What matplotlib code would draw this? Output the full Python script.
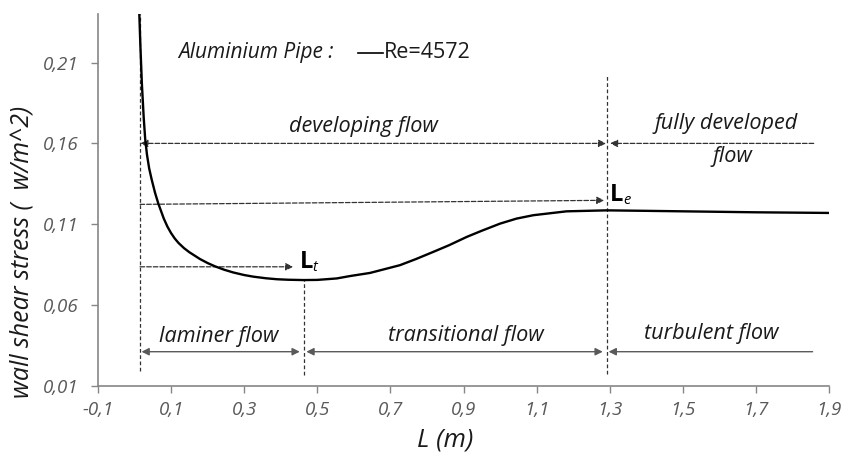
import matplotlib
matplotlib.use("Agg")
import matplotlib.pyplot as plt
from matplotlib.ticker import FuncFormatter

plt.rcParams['font.family'] = ['Open Sans', 'DejaVu Sans']

# wall shear stress along the aluminium pipe, Re=4572
L = [0.013, 0.016, 0.020, 0.025, 0.029, 0.034, 0.040, 0.047, 0.056, 0.065,
     0.08, 0.09, 0.10, 0.11, 0.12, 0.135, 0.15, 0.179, 0.20, 0.22,
     0.245, 0.27, 0.30, 0.325, 0.36, 0.39, 0.42, 0.462, 0.50, 0.553,
     0.59, 0.644, 0.68, 0.726, 0.77, 0.817, 0.86, 0.909, 0.95, 1.0,
     1.045, 1.091, 1.182, 1.292, 1.4, 1.5, 1.6, 1.7, 1.8, 1.9]
tau = [0.240, 0.220, 0.197, 0.176, 0.163, 0.153, 0.1445, 0.1375, 0.1295, 0.1228,
       0.1135, 0.1085, 0.1045, 0.1012, 0.0985, 0.0953, 0.0927, 0.0885, 0.086, 0.084,
       0.0819, 0.0802, 0.0786, 0.0776, 0.0766, 0.076, 0.0757, 0.0755, 0.0756, 0.0765,
       0.078, 0.0799, 0.082, 0.0847, 0.0885, 0.0929, 0.097, 0.1022, 0.106, 0.1104,
       0.1135, 0.1156, 0.118, 0.1186, 0.1183, 0.118, 0.1177, 0.1174, 0.1172, 0.117]

x_ticks = [-0.1, 0.1, 0.3, 0.5, 0.7, 0.9, 1.1, 1.3, 1.5, 1.7, 1.9]
y_ticks = [0.01, 0.06, 0.11, 0.16, 0.21]

x_start = 0.015   # pipe inlet
L_t = 0.464       # end of laminar region
L_e = 1.293       # entrance length

fig = plt.figure(figsize=(8.42, 4.61), dpi=100)
ax = fig.add_axes([0.1164, 0.1627, 0.8682, 0.8069])

ax.plot(L, tau, color='black', lw=1.7, solid_capstyle='round',
        solid_joinstyle='round', zorder=5)

ax.set_xlim(-0.1, 1.9)
ax.set_ylim(0.01, 0.24)
ax.set_xticks(x_ticks)
ax.set_yticks(y_ticks)
ax.xaxis.set_major_formatter(FuncFormatter(lambda v, p: ('%.1f' % v).replace('.', ',')))
ax.yaxis.set_major_formatter(FuncFormatter(lambda v, p: ('%.2f' % v).replace('.', ',')))
for lab in ax.get_xticklabels() + ax.get_yticklabels():
    lab.set_fontstyle('italic')
ax.tick_params(axis='both', direction='out', length=5, width=1, color='#868686',
               labelcolor='#595959', labelsize=13.5)
ax.tick_params(axis='x', pad=6)
ax.tick_params(axis='y', pad=9)
for side in ['top', 'right']:
    ax.spines[side].set_visible(False)
for side in ['left', 'bottom']:
    ax.spines[side].set_color('#868686')
    ax.spines[side].set_linewidth(1.2)

fig.text(445 / 842, 1 - 440 / 461, 'L (m)', ha='center', va='center',
         fontsize=18.5, fontstyle='italic', color='#1a1a1a')
fig.text(22 / 842, 1 - 252 / 461, 'wall shear stress (  w/m^2)', rotation=90,
         ha='center', va='center', fontsize=18, fontstyle='italic', color='#1a1a1a')

dash = dict(color='#333333', lw=0.9, ls=(0, (3, 2)))

# vertical markers
ax.plot([x_start, x_start], [0.019, 0.24], **dash)
ax.plot([L_t, L_t], [0.0168, 0.0755], **dash)
ax.plot([L_e, L_e], [0.0172, 0.203], **dash)

def arrow(x0, y0, x1, y1, style, color='#333333', ls='--', lw=0.9):
    ax.annotate('', xy=(x1, y1), xytext=(x0, y0),
                arrowprops=dict(arrowstyle=style, color=color, lw=lw, ls=ls,
                                shrinkA=0, shrinkB=0,
                                mutation_scale=11))

label = dict(ha='center', va='center', fontsize=15.6, fontstyle='italic', color='#1a1a1a')

# developing / fully developed flow
arrow(x_start + 0.001, 0.160, L_e - 0.003, 0.160, '<|-|>')
arrow(1.858, 0.160, L_e + 0.008, 0.160, '-|>')
ax.text(0.625, 0.1705, 'developing flow', **label)
ax.text(1.618, 0.1723, 'fully developed', **label)
ax.text(1.637, 0.152, 'flow', **label)

# entrance lengths
arrow(x_start, 0.1223, L_e - 0.008, 0.1248, '-|>')
arrow(x_start, 0.0837, 0.434, 0.0837, '-|>')
ax.text(L_e + 0.008, 0.128, 'L', fontsize=17, fontweight='bold', ha='left', va='center')
ax.text(L_e + 0.043, 0.1245, 'e', fontsize=10.5, fontstyle='italic', ha='left', va='center')
ax.text(0.452, 0.0865, 'L', fontsize=17, fontweight='bold', ha='left', va='center')
ax.text(0.487, 0.0832, 't', fontsize=10.5, fontstyle='italic', ha='left', va='center')

# flow regimes along the pipe
regime = dict(color='#595959', lw=1.0, ls='-')
arrow(x_start + 0.004, 0.0312, L_t - 0.012, 0.0312, '<|-|>', **regime)
arrow(L_t + 0.006, 0.0312, L_e - 0.012, 0.0312, '<|-|>', **regime)
arrow(1.855, 0.0312, L_e + 0.004, 0.0312, '-|>', **regime)
ax.text(0.231, 0.0409, 'laminer flow', **label)
ax.text(0.907, 0.0415, 'transitional flow', **label)
ax.text(1.578, 0.0427, 'turbulent flow', **label)

# series caption
ax.text(0.119, 0.2162, 'Aluminium Pipe :', ha='left', va='center',
        fontsize=15, fontstyle='italic', color='#1a1a1a')
ax.plot([0.611, 0.679], [0.2162, 0.2162], color='black', lw=1.2)
ax.text(0.683, 0.2162, 'Re=4572', ha='left', va='center', fontsize=15.5, color='#1a1a1a')

fig.savefig('out.png', dpi=100)
